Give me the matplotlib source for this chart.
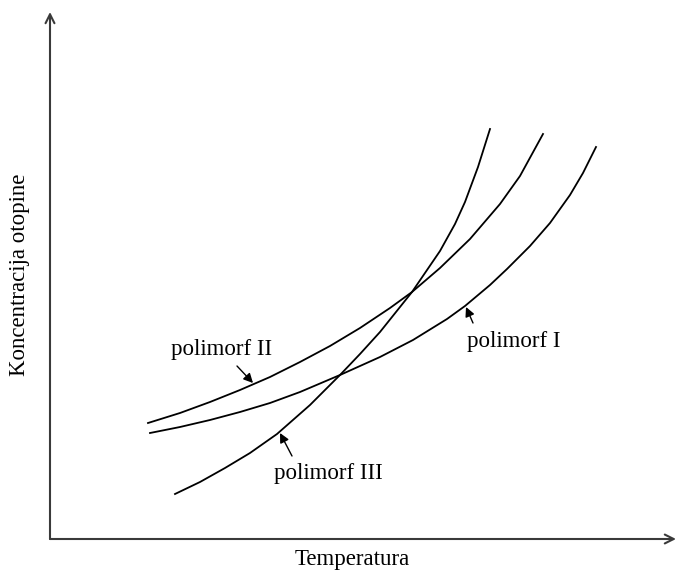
import matplotlib.pyplot as plt

# Shema: topljivost tri polimorfa u ovisnosti o temperaturi (proizvoljne jedinice)
T_I = [100, 130, 160, 190, 220, 250, 290, 330, 363, 397, 415, 440, 457, 480, 500, 520, 533, 546]
C_I = [106, 112, 119, 127, 136, 147, 164, 182, 199, 220, 233, 254, 270, 293, 316, 344, 366, 392]

T_II = [98, 130, 160, 190, 220, 250, 280, 310, 340, 362, 390, 420, 450, 470, 493]
C_II = [116, 126, 137, 149, 162, 177, 193, 211, 231, 247, 271, 300, 335, 363, 405]

T_III = [125, 150, 175, 200, 227, 260, 290, 310, 330, 362, 390, 405, 415, 428, 440]
C_III = [45, 57, 71, 86, 105, 134, 164, 185, 207, 247, 288, 315, 337, 372, 410]

# oznake: tekst, polozaj teksta, pocetak i vrh strelice
oznake = ["polimorf I", "polimorf II", "polimorf III"]
tekst_xy = [(464, 198), (172, 190), (278, 66)]
strelica_od = [(423, 216), (187, 173), (242, 83)]
strelica_do = [(416, 232), (203, 156), (230, 106)]

plt.rcParams['font.family'] = ['Liberation Serif', 'DejaVu Serif']

fig = plt.figure(figsize=(6.78, 5.74), dpi=100)
ax = fig.add_axes([50/678, 35/574, 626/678, 527/574])
ax.set_xlim(0, 626)
ax.set_ylim(0, 527)
ax.axis('off')

for T, C in [(T_I, C_I), (T_II, C_II), (T_III, C_III)]:
    ax.plot(T, C, color='black', lw=1.3, solid_joinstyle='round')

for txt, xy, a, b in zip(oznake, tekst_xy, strelica_od, strelica_do):
    ax.text(xy[0], xy[1], txt, fontsize=16.5, ha='center', va='center')
    ax.annotate('', xy=b, xytext=a,
                arrowprops=dict(arrowstyle='-|>', color='black', lw=1.0,
                                mutation_scale=14, shrinkA=0, shrinkB=0))

# osi sa strelicama
for kraj in [(0, 1), (1, 0)]:
    ax.annotate('', xy=kraj, xytext=(0, 0), xycoords='axes fraction',
                arrowprops=dict(arrowstyle='->', color='#3a3a3a', lw=1.5,
                                mutation_scale=16, shrinkA=0, shrinkB=0))

fig.text(20/678, 1 - 275/574, 'Koncentracija otopine', fontsize=16.5,
         rotation=90, ha='center', va='center')
fig.text(352/678, 1 - 560/574, 'Temperatura', fontsize=16.5,
         ha='center', va='center')

plt.savefig('out.png', dpi=100)
